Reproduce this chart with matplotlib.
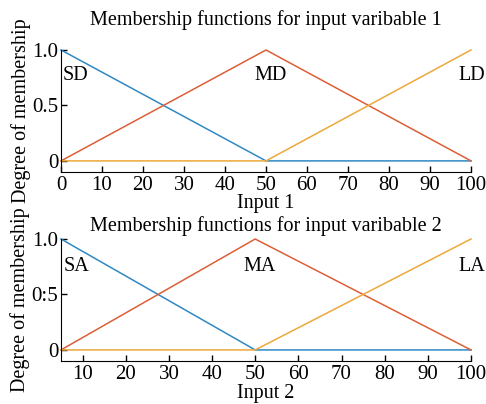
import matplotlib.pyplot as plt

plt.rcParams['font.family'] = ['Liberation Serif', 'DejaVu Serif']

# input variable 1
x1 = [0, 50, 100]
sd = [1, 0, 0]
md = [0, 1, 0]
ld = [0, 0, 1]
names1 = ['SD', 'MD', 'LD']
ticks1 = [0, 10, 20, 30, 40, 50, 60, 70, 80, 90, 100]

# input variable 2
x2 = [5, 50, 100]
sa = [1, 0, 0]
ma = [0, 1, 0]
la = [0, 0, 1]
names2 = ['SA', 'MA', 'LA']
ticks2 = [10, 20, 30, 40, 50, 60, 70, 80, 90, 100]

yticks = [0, 0.5, 1.0]
ylabels1 = ['0', '0.5', '1.0']
ylabels2 = ['0', '0:5', '1.0']

colors = ['#3088C4', '#DC5F36', '#EDA83A']

fig = plt.figure(figsize=(4.86, 4.04), dpi=100)
ax1 = fig.add_axes([0.1255, 0.5743, 0.8436, 0.302])
ax2 = fig.add_axes([0.1255, 0.1064, 0.8436, 0.302])


def draw(ax, x, series, names, ticks, ylabels, title, xlabel, lpos, ly,
         tpad, xpad):
    for s, c in zip(series, colors):
        ax.plot(x, s, color=c, lw=1.1, clip_on=False)
    ax.set_xlim(x[0], x[-1])
    ax.set_ylim(-0.1, 1.0)
    ax.set_xticks(ticks)
    ax.set_yticks(yticks)
    ax.set_yticklabels(ylabels)
    ax.tick_params(direction='in', labelsize=15, length=4, width=1, pad=2)
    ax.tick_params(axis='x', pad=3)
    for side in ['top', 'right']:
        ax.spines[side].set_visible(False)
    ax.set_title(title, fontsize=14.5, pad=tpad)
    ax.set_xlabel(xlabel, fontsize=14.5, labelpad=xpad)
    ax.set_ylabel('Degree of membership', fontsize=14.5, labelpad=1)
    for n, (px, ha) in zip(names, lpos):
        ax.text(px, ly, n, fontsize=14.5, ha=ha, va='center')


draw(ax1, x1, [sd, md, ld], names1, ticks1, ylabels1,
     'Membership functions for input varibable 1', 'Input 1',
     [(0.4, 'left'), (51, 'center'), (100.3, 'center')], 0.77, 18, -1)
draw(ax2, x2, [sa, ma, la], names2, ticks2, ylabels2,
     'Membership functions for input varibable 2', 'Input 2',
     [(5.6, 'left'), (51, 'center'), (100.3, 'center')], 0.75, 6, 0)

fig.savefig('out.png', dpi=100)
